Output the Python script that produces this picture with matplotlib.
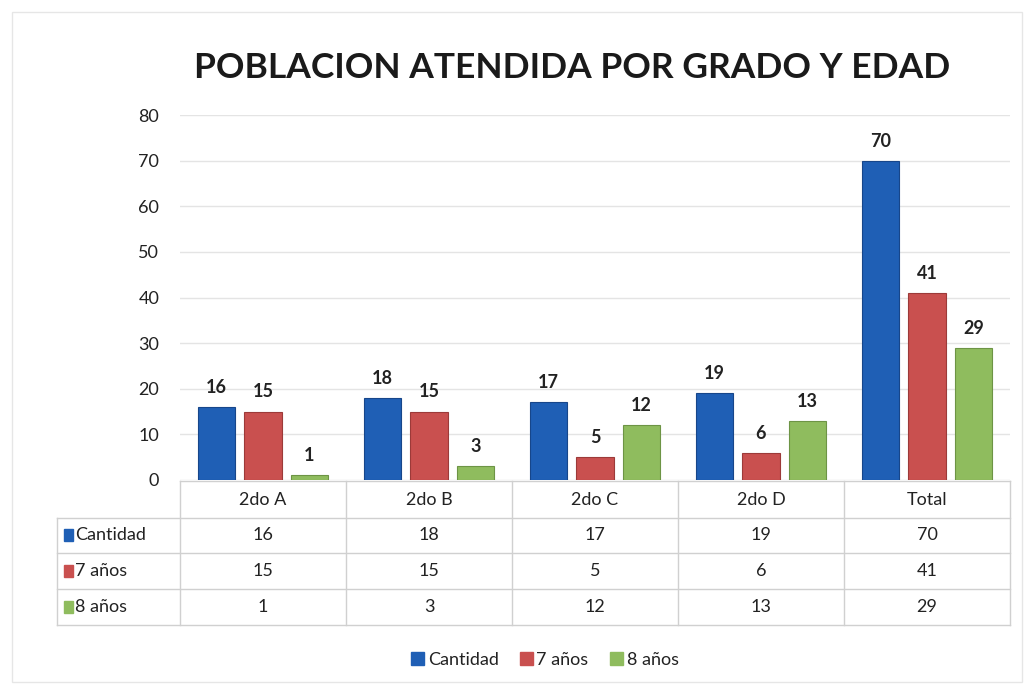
import numpy as np
import matplotlib.pyplot as plt
from matplotlib.patches import Rectangle
from matplotlib.lines import Line2D

# Data
categorias = ["2do A", "2do B", "2do C", "2do D", "Total"]
series = ["Cantidad", "7 años", "8 años"]
cantidad = [16, 18, 17, 19, 70]
siete = [15, 15, 5, 6, 41]
ocho = [1, 3, 12, 13, 29]
valores = [cantidad, siete, ocho]
colores = ["#1f5fb5", "#c9504f", "#8fbc5e"]
bordes = ["#17468a", "#9c3a39", "#6d9445"]

plt.rcParams['font.family'] = ['Lato', 'DejaVu Sans']

W, H = 1032, 688
fig = plt.figure(figsize=(W / 100, H / 100), dpi=100)
# axes placed by pixel box: left 180, right 1010, top 115, bottom 480
ax = fig.add_axes([180 / W, 1 - 480 / H, 830 / W, 365 / H])

x = np.arange(len(categorias))
offs = [-0.28, 0.0, 0.28]
bw = 0.225
for vals, off, c, e in zip(valores, offs, colores, bordes):
    bars = ax.bar(x + off, vals, width=bw, color=c, edgecolor=e, linewidth=0.8, zorder=3)
    for b, v in zip(bars, vals):
        ax.annotate(str(v), (b.get_x() + b.get_width() / 2, v), xytext=(0, 8),
                    textcoords="offset points", ha="center", va="bottom",
                    fontsize=13, fontweight="bold", color="#222222")

ax.set_xlim(-0.5, len(categorias) - 0.5)
ax.set_ylim(0, 80)
ax.set_yticks(range(0, 81, 10))
ax.tick_params(axis="y", length=0, labelsize=13, pad=15, labelcolor="#222222")
ax.set_xticks([])
ax.grid(axis="y", color="#e4e4e4", linewidth=1, zorder=0)
for s in ax.spines.values():
    s.set_visible(False)

# Data table below the axes
ax_h = 365.0
def ypx(p):
    return (480 - p) / ax_h

trans = ax.get_xaxis_transform()
line_kw = dict(color="#d0d0d0", linewidth=1, clip_on=False, transform=trans)
left_lbl = -0.5 - (180 - 57) / 166.0

# horizontal lines
ax.add_line(Line2D([-0.5, 4.5], [ypx(481), ypx(481)], **line_kw))
for p in [518, 553, 589, 625]:
    ax.add_line(Line2D([left_lbl, 4.5], [ypx(p), ypx(p)], **line_kw))
# vertical lines
for xv in np.arange(-0.5, 4.6, 1.0):
    ax.add_line(Line2D([xv, xv], [ypx(481), ypx(625)], **line_kw))
ax.add_line(Line2D([left_lbl, left_lbl], [ypx(518), ypx(625)], **line_kw))

for i, cat in enumerate(categorias):
    ax.text(i, ypx(500), cat, transform=trans, ha="center", va="center",
            fontsize=13, color="#222222")

row_y = [535, 571, 607]
for name, vals, c, ry in zip(series, valores, colores, row_y):
    ax.add_patch(Rectangle((left_lbl + 0.04, ypx(ry) - 0.016), 0.055, 0.032,
                           transform=trans, clip_on=False, color=c))
    ax.text(left_lbl + 0.11, ypx(ry), name, transform=trans, ha="left", va="center",
            fontsize=13, color="#222222")
    for i, v in enumerate(vals):
        ax.text(i, ypx(ry), str(v), transform=trans, ha="center", va="center",
                fontsize=13, color="#222222")

# Legend at bottom
handles = [Rectangle((0, 0), 1, 1, color=c) for c in colores]
fig.legend(handles, series, loc="center", bbox_to_anchor=(545 / W, 1 - 660 / H),
           ncol=3, frameon=False, fontsize=13, handlelength=0.7, handleheight=0.7,
           handletextpad=0.2, columnspacing=1.2, labelcolor="#222222")

fig.text(572 / W, 1 - 68 / H, "POBLACION ATENDIDA POR GRADO Y EDAD", ha="center",
         va="center", fontsize=25.5, fontweight="bold", color="#1a1a1a")

# faint chart frame
fig.patches.append(Rectangle((12 / W, 1 - 682 / H), 1010 / W, 670 / H, transform=fig.transFigure,
                             fill=False, edgecolor="#e6e6e6", linewidth=1))

fig.savefig("out.png", dpi=100)
